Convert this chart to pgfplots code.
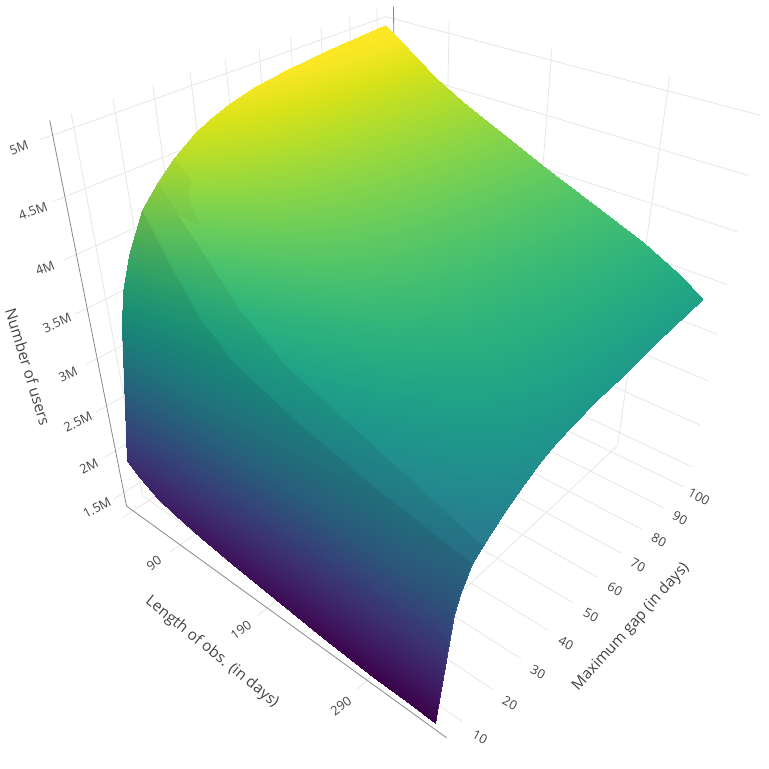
\documentclass[border=0pt]{standalone}
\usepackage{fontspec}
\setmainfont{Open Sans}
\usepackage{pgfplots}
\usepackage{pgfplotstable}
\pgfplotsset{compat=1.18}

% users (in millions) against length of observation (x) and maximum gap (y)
\pgfplotstableread{
x y z
30 6 1.907
45 6 1.807
65 6 1.695
85 6 1.640
115 6 1.578
150 6 1.517
196 6 1.461
245 6 1.406
293 6 1.367
326 6 1.356
348 6 1.350
30 11 3.247
45 11 3.141
65 11 3.017
85 11 2.937
115 11 2.843
150 11 2.750
196 11 2.650
245 11 2.551
293 11 2.466
326 11 2.408
348 11 2.360
30 13 3.550
45 13 3.439
65 13 3.308
85 13 3.216
115 13 3.109
150 13 3.002
196 13 2.883
245 13 2.765
293 13 2.661
326 13 2.585
348 13 2.520
30 16 3.854
45 16 3.744
65 16 3.613
85 16 3.513
115 16 3.395
150 16 3.277
196 16 3.142
245 16 3.009
293 16 2.887
326 16 2.792
348 16 2.710
30 21 4.188
45 21 4.074
65 21 3.934
85 21 3.819
115 21 3.680
150 21 3.542
196 21 3.377
245 21 3.216
293 21 3.064
326 21 2.939
348 21 2.830
30 26 4.370
45 26 4.258
65 26 4.120
85 26 4.000
115 26 3.855
150 26 3.709
196 26 3.535
245 26 3.363
293 26 3.199
326 26 3.062
348 26 2.940
30 31 4.510
45 31 4.403
65 31 4.269
85 31 4.146
115 31 3.996
150 31 3.847
196 31 3.665
245 31 3.484
293 31 3.311
326 31 3.162
348 31 3.030
30 37 4.645
45 37 4.541
65 37 4.407
85 37 4.282
115 37 4.128
150 37 3.974
196 37 3.785
245 37 3.599
293 37 3.419
326 37 3.260
348 37 3.120
30 42 4.715
45 42 4.611
65 42 4.478
85 42 4.349
115 42 4.194
150 42 4.038
196 42 3.845
245 42 3.655
293 42 3.470
326 42 3.309
348 42 3.165
30 48 4.789
45 48 4.685
65 48 4.551
85 48 4.421
115 48 4.263
150 48 4.104
196 48 3.906
245 48 3.714
293 48 3.524
326 48 3.358
348 48 3.210
30 56 4.845
45 56 4.742
65 56 4.609
85 56 4.477
115 56 4.317
150 56 4.155
196 56 3.954
245 56 3.757
293 56 3.564
326 56 3.392
348 56 3.240
30 66 4.898
45 66 4.797
65 66 4.664
85 66 4.532
115 66 4.369
150 66 4.204
196 66 4.001
245 66 3.799
293 66 3.602
326 66 3.426
348 66 3.270
30 80 4.935
45 80 4.836
65 80 4.706
85 80 4.573
115 80 4.410
150 80 4.248
196 80 4.043
245 80 3.843
293 80 3.645
326 80 3.468
348 80 3.310
30 100 4.967
45 100 4.871
65 100 4.744
85 100 4.613
115 100 4.453
150 100 4.292
196 100 4.090
245 100 3.890
293 100 3.694
326 100 3.517
348 100 3.360
}\surfdata

\definecolor{gridc}{HTML}{E6E6E6}
\definecolor{axisc}{HTML}{888888}
\definecolor{textc}{HTML}{444444}

% a straight line of the box, from one data point to another
\newcommand{\gline}[7]{\addplot3[#1] table[row sep=\\,
  x expr={projx(\thisrow{x},\thisrow{y},\thisrow{z})},
  y expr={projy(\thisrow{x},\thisrow{y},\thisrow{z})}, z=z]
  {x y z\\ #2 #3 #4\\ #5 #6 #7\\};}
% a patch of plotly's lighting: rows with p=1 are already picture positions
\newcommand{\shadepatch}[2]{\addplot3[fill=black, fill opacity=#1, draw=none, forget plot]
  table[row sep=\\,
  x expr={\thisrow{p}>0 ? \thisrow{x} : projx(\thisrow{x},\thisrow{y},\thisrow{z})},
  y expr={\thisrow{p}>0 ? \thisrow{y} : projy(\thisrow{x},\thisrow{y},\thisrow{z})}, z=z]
  {x y z p\\ #2};}

\begin{document}
\begin{tikzpicture}[declare function={
    ux(\a)=(\a-21.2)/339;
    vy(\b)=(\b-5.13)/98.2;
    wz(\c)=(\c-1.336)/3.779;
    den(\a,\b,\c)=1-0.2092*ux(\a)+0.2378*vy(\b)-0.2136*wz(\c);
    projx(\a,\b,\c)=(126.5+226.6*ux(\a)+356*vy(\b)-87.4*wz(\c))/den(\a,\b,\c);
    projy(\a,\b,\c)=(506+77.4*ux(\a)-89.9*vy(\b)-411.4*wz(\c))/den(\a,\b,\c);
  },
  tl/.style={font=\fontsize{9.6}{9.6}\selectfont,text=textc,inner sep=0pt},
  tt/.style={font=\fontsize{11.5}{11.5}\selectfont,text=textc,inner sep=0pt}]
\useasboundingbox (0,0) rectangle (576.75pt,576.75pt);
\begin{axis}[
    at={(0,0)}, anchor=south west,
    scale only axis, width=576.75pt, height=576.75pt,
    view={0}{90}, hide axis, clip=false,
    xmin=0, xmax=769, ymin=0, ymax=769, zmin=1, zmax=6,
    y dir=reverse,
    colormap/viridis, point meta min=1.35, point meta max=4.9,
    grid0/.style={gridc, line width=0.6pt, forget plot},
    axis0/.style={axisc, line width=0.6pt, forget plot},
]
% walls and floor
\pgfplotsinvokeforeach{1.5,2,...,5}{
  \gline{grid0}{21.2}{2.2}{#1}{21.2}{103.3}{#1}
  \gline{grid0}{21.2}{103.3}{#1}{360.2}{103.3}{#1}
}
\pgfplotsinvokeforeach{10,20,...,100}{
  \gline{grid0}{21.2}{#1}{1.336}{21.2}{#1}{5.115}
  \gline{grid0}{21.2}{#1}{1.336}{360.2}{#1}{1.336}
}
\pgfplotsinvokeforeach{90,190,290}{
  \gline{grid0}{#1}{103.3}{1.336}{#1}{103.3}{5.115}
  \gline{grid0}{#1}{2.2}{1.336}{#1}{103.3}{1.336}
}
\gline{grid0}{30}{2.2}{1.336}{30}{103.3}{1.336}
\gline{axis0}{30}{103.3}{1.336}{30}{103.3}{5.115}
\gline{axis0}{21.2}{5.13}{1.336}{360.2}{5.13}{1.336}
\gline{axis0}{21.2}{5.13}{1.336}{21.2}{5.13}{5.115}

\addplot3[surf, shader=interp, mesh/rows=14, mesh/cols=11,
  point meta=\thisrow{z}] table[
  x expr={projx(\thisrow{x},\thisrow{y},\thisrow{z})},
  y expr={projy(\thisrow{x},\thisrow{y},\thisrow{z})}, z=z] {\surfdata};

% lighting steps on the surface
\shadepatch{0.13}{
  30 21 4.188 0\\ 170 265 1 1\\ 200 318 1 1\\ 233 362 1 1\\ 300 425 1 1\\ 380 492 1 1\\
  348 16 2.71 0\\ 348 13 2.52 0\\ 348 11 2.36 0\\ 348 6 1.35 0\\
  326 6 1.356 0\\ 293 6 1.367 0\\ 245 6 1.406 0\\ 196 6 1.461 0\\ 150 6 1.517 0\\
  115 6 1.578 0\\ 85 6 1.64 0\\ 65 6 1.695 0\\ 45 6 1.807 0\\ 30 6 1.907 0\\
  30 11 3.247 0\\ 30 13 3.55 0\\ 30 16 3.854 0\\}
\shadepatch{0.06}{
  30 26 4.37 0\\ 178 215 1 1\\ 200 248 1 1\\ 240 310 1 1\\ 287 367 1 1\\ 400 470 1 1\\ 483 546 1 1\\
  348 16 2.71 0\\ 380 492 1 1\\ 300 425 1 1\\ 233 362 1 1\\ 200 318 1 1\\ 170 265 1 1\\ 30 21 4.188 0\\}
\shadepatch{0.03}{
  30 26 4.37 0\\ 30 31 4.51 0\\ 192 181 1 1\\ 188 195 1 1\\ 200 225 1 1\\ 178 215 1 1\\}

% tick labels
\node[tl,rotate=19] at (axis cs:19,148,1) {5M};
\node[tl,rotate=20] at (axis cs:33,211,1) {4.5M};
\node[tl,rotate=22] at (axis cs:45,268,1) {4M};
\node[tl,rotate=24] at (axis cs:57,323,1) {3.5M};
\node[tl,rotate=25] at (axis cs:68,374,1) {3M};
\node[tl,rotate=26] at (axis cs:78,422,1) {2.5M};
\node[tl,rotate=27] at (axis cs:89,466,1) {2M};
\node[tl,rotate=28] at (axis cs:97,508,1) {1.5M};
\node[tl,rotate=36] at (axis cs:154,563,1) {90};
\node[tl,rotate=36] at (axis cs:241,630,1) {190};
\node[tl,rotate=36] at (axis cs:341,706,1) {290};
\node[tl,rotate=-28] at (axis cs:480,737,1) {10};
\node[tl,rotate=-28] at (axis cs:510,703,1) {20};
\node[tl,rotate=-28] at (axis cs:538,672,1) {30};
\node[tl,rotate=-28] at (axis cs:566,643,1) {40};
\node[tl,rotate=-28] at (axis cs:591,615,1) {50};
\node[tl,rotate=-28] at (axis cs:615,589,1) {60};
\node[tl,rotate=-28] at (axis cs:638,565,1) {70};
\node[tl,rotate=-28] at (axis cs:659,540,1) {80};
\node[tl,rotate=-28] at (axis cs:680,518,1) {90};
\node[tl,rotate=-28] at (axis cs:699,497,1) {100};
% axis titles
\node[tt,rotate=-73] at (axis cs:28,367,1) {Number of users};
\node[tt,rotate=-39] at (axis cs:212,652,1) {Length of obs. (in days)};
\node[tt,rotate=48] at (axis cs:631,627,1) {Maximum gap (in days)};
\end{axis}
\end{tikzpicture}
\end{document}
